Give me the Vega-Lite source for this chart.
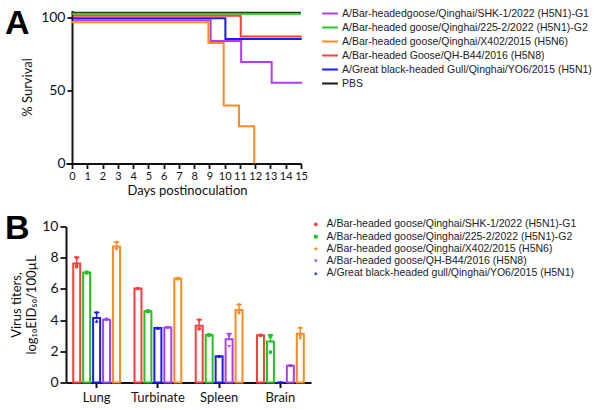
{
  "$schema": "https://vega.github.io/schema/vega-lite/v6.json",
  "background": "white",
  "padding": {"left": 5, "top": 6.5, "right": 0, "bottom": 0},
  "spacing": 14,
  "config": {
    "font": "Lato",
    "view": {"stroke": null},
    "axis": {
      "domainColor": "#111111", "domainWidth": 2, "tickColor": "#111111", "tickWidth": 1.8, "tickSize": 5,
      "labelColor": "#111111", "titleColor": "#111111", "labelFont": "Lato", "titleFont": "Lato",
      "grid": false, "titleFontWeight": "normal"
    },
    "legend": {"labelFont": "Liberation Sans", "labelColor": "#222222"}
  },
  "resolve": {"scale": {"color": "independent", "shape": "independent"}, "legend": {"color": "independent", "shape": "independent"}},
  "vconcat": [
    {
      "width": 235,
      "height": 153,
      "title": {"text": "A", "font": "Liberation Sans", "fontSize": 34, "fontWeight": "bold", "color": "#000000", "anchor": "start", "frame": "group", "orient": "top", "offset": 0, "dx": -61, "dy": 33},
      "data": {"values": [
        {"strain": "A/Bar-headedgoose/Qinghai/SHK-1/2022 (H5N1)-G1", "day": 0, "survival": 100},
        {"strain": "A/Bar-headedgoose/Qinghai/SHK-1/2022 (H5N1)-G1", "day": 9, "survival": 85.7},
        {"strain": "A/Bar-headedgoose/Qinghai/SHK-1/2022 (H5N1)-G1", "day": 11, "survival": 71.4},
        {"strain": "A/Bar-headedgoose/Qinghai/SHK-1/2022 (H5N1)-G1", "day": 13, "survival": 57.1},
        {"strain": "A/Bar-headedgoose/Qinghai/SHK-1/2022 (H5N1)-G1", "day": 15, "survival": 57.1},
        {"strain": "A/Bar-headed goose/Qinghai/225-2/2022 (H5N1)-G2", "day": 0, "survival": 100},
        {"strain": "A/Bar-headed goose/Qinghai/225-2/2022 (H5N1)-G2", "day": 15, "survival": 100},
        {"strain": "A/Bar-headed goose/Qinghai/X402/2015 (H5N6)", "day": 0, "survival": 100},
        {"strain": "A/Bar-headed goose/Qinghai/X402/2015 (H5N6)", "day": 9, "survival": 85.7},
        {"strain": "A/Bar-headed goose/Qinghai/X402/2015 (H5N6)", "day": 10, "survival": 42.9},
        {"strain": "A/Bar-headed goose/Qinghai/X402/2015 (H5N6)", "day": 11, "survival": 28.6},
        {"strain": "A/Bar-headed goose/Qinghai/X402/2015 (H5N6)", "day": 12, "survival": 0},
        {"strain": "A/Bar-headed Goose/QH-B44/2016 (H5N8)", "day": 0, "survival": 100},
        {"strain": "A/Bar-headed Goose/QH-B44/2016 (H5N8)", "day": 11, "survival": 85.7},
        {"strain": "A/Bar-headed Goose/QH-B44/2016 (H5N8)", "day": 15, "survival": 85.7},
        {"strain": "A/Great black-headed Gull/Qinghai/YO6/2015 (H5N1)", "day": 0, "survival": 100},
        {"strain": "A/Great black-headed Gull/Qinghai/YO6/2015 (H5N1)", "day": 10, "survival": 85.7},
        {"strain": "A/Great black-headed Gull/Qinghai/YO6/2015 (H5N1)", "day": 15, "survival": 85.7},
        {"strain": "PBS", "day": 0, "survival": 100},
        {"strain": "PBS", "day": 15, "survival": 100}
      ]},
      "encoding": {
        "x": {"field": "day", "type": "quantitative", "scale": {"domain": [-0.395, 15], "nice": false, "zero": false},
          "axis": {"values": [0,1,2,3,4,5,6,7,8,9,10,11,12,13,14,15], "title": "Days postinoculation", "labelFontSize": 11, "titleFontSize": 13, "labelPadding": 2, "titlePadding": 3, "labelFlush": false, "labelOverlap": false, "titleX": 121}},
        "y": {"field": "survival", "type": "quantitative", "scale": {"domain": [0, 105], "nice": false},
          "axis": {"values": [0, 50, 100], "title": "% Survival", "labelFontSize": 14, "titleFontSize": 13, "labelPadding": 2, "titlePadding": 6, "offset": -6}},
        "color": {"field": "strain", "type": "nominal",
          "scale": {
            "domain": ["A/Bar-headedgoose/Qinghai/SHK-1/2022 (H5N1)-G1", "A/Bar-headed goose/Qinghai/225-2/2022 (H5N1)-G2", "A/Bar-headed goose/Qinghai/X402/2015 (H5N6)", "A/Bar-headed Goose/QH-B44/2016 (H5N8)", "A/Great black-headed Gull/Qinghai/YO6/2015 (H5N1)", "PBS"],
            "range": ["#b13cf3", "#22c922", "#ff8a1e", "#ff3d3d", "#1b1bff", "#1a1a1a"]
          },
          "legend": {"orient": "none", "legendX": 255, "legendY": -3, "title": null, "symbolType": "stroke", "symbolStrokeWidth": 2, "symbolSize": 250, "clipHeight": 12, "labelFontSize": 10.5, "labelLimit": 0, "rowPadding": 2, "labelOffset": 3}}
      },
      "layer": [
        {"transform": [{"filter": {"field": "strain", "equal": "PBS"}}], "mark": {"type": "line", "interpolate": "step-after", "strokeWidth": 2, "yOffset": -5}},
        {"transform": [{"filter": {"field": "strain", "equal": "A/Bar-headed goose/Qinghai/225-2/2022 (H5N1)-G2"}}], "mark": {"type": "line", "interpolate": "step-after", "strokeWidth": 2, "yOffset": -4}},
        {"transform": [{"filter": {"field": "strain", "equal": "A/Bar-headed Goose/QH-B44/2016 (H5N8)"}}], "mark": {"type": "line", "interpolate": "step-after", "strokeWidth": 2, "yOffset": -2, "xOffset": 0.8}},
        {"transform": [{"filter": {"field": "strain", "equal": "A/Great black-headed Gull/Qinghai/YO6/2015 (H5N1)"}}], "mark": {"type": "line", "interpolate": "step-after", "strokeWidth": 2, "yOffset": 0.5, "xOffset": 0.7}},
        {"transform": [{"filter": {"field": "strain", "equal": "A/Bar-headedgoose/Qinghai/SHK-1/2022 (H5N1)-G1"}}], "mark": {"type": "line", "interpolate": "step-after", "strokeWidth": 2, "yOffset": 2.5, "xOffset": 1.2}},
        {"transform": [{"filter": {"field": "strain", "equal": "A/Bar-headed goose/Qinghai/X402/2015 (H5N6)"}}], "mark": {"type": "line", "interpolate": "step-after", "strokeWidth": 2, "yOffset": 4.5, "xOffset": -1, "clip": true}}
      ]
    },
    {
      "width": 245,
      "height": 156,
      "title": {"text": "B", "font": "Liberation Sans", "fontSize": 34, "fontWeight": "bold", "color": "#000000", "anchor": "start", "frame": "group", "orient": "top", "offset": 0, "dx": -61, "dy": 27},
      "data": {"values": [
        {"tissue": "Lung", "strain": "A/Bar-headed goose/Qinghai/SHK-1/2022 (H5N1)-G1", "titer": 7.63, "upper": 8.03, "reps": [8.0, 7.5, 7.4]},
        {"tissue": "Lung", "strain": "A/Bar-headed goose/Qinghai/225-2/2022 (H5N1)-G2", "titer": 7.05, "upper": 7.05, "reps": [7.05, 7.05, 7.05]},
        {"tissue": "Lung", "strain": "A/Great black-headed gull/Qinghai/YO6/2015 (H5N1)", "titer": 4.13, "upper": 4.5, "reps": [4.5, 3.95, 3.95]},
        {"tissue": "Lung", "strain": "A/Bar-headed goose/QH-B44/2016 (H5N8)", "titer": 4.03, "upper": 4.05, "reps": [4.05, 4.0, 4.05]},
        {"tissue": "Lung", "strain": "A/Bar-headed goose/Qinghai/X402/2015 (H5N6)", "titer": 8.72, "upper": 9.0, "reps": [9.0, 8.6, 8.55]},
        {"tissue": "Turbinate", "strain": "A/Bar-headed goose/Qinghai/SHK-1/2022 (H5N1)-G1", "titer": 6.03, "upper": 6.03, "reps": [6.03, 6.03, 6.03]},
        {"tissue": "Turbinate", "strain": "A/Bar-headed goose/Qinghai/225-2/2022 (H5N1)-G2", "titer": 4.57, "upper": 4.57, "reps": [4.57, 4.57, 4.57]},
        {"tissue": "Turbinate", "strain": "A/Great black-headed gull/Qinghai/YO6/2015 (H5N1)", "titer": 3.5, "upper": 3.5, "reps": [3.5, 3.5, 3.5]},
        {"tissue": "Turbinate", "strain": "A/Bar-headed goose/QH-B44/2016 (H5N8)", "titer": 3.52, "upper": 3.52, "reps": [3.52, 3.52, 3.52]},
        {"tissue": "Turbinate", "strain": "A/Bar-headed goose/Qinghai/X402/2015 (H5N6)", "titer": 6.65, "upper": 6.7, "reps": [6.7, 6.65, 6.6]},
        {"tissue": "Spleen", "strain": "A/Bar-headed goose/Qinghai/SHK-1/2022 (H5N1)-G1", "titer": 3.63, "upper": 4.03, "reps": [4.0, 3.45, 3.45]},
        {"tissue": "Spleen", "strain": "A/Bar-headed goose/Qinghai/225-2/2022 (H5N1)-G2", "titer": 3.05, "upper": 3.05, "reps": [3.05, 3.05, 3.05]},
        {"tissue": "Spleen", "strain": "A/Great black-headed gull/Qinghai/YO6/2015 (H5N1)", "titer": 1.68, "upper": 1.68, "reps": [1.68, 1.68, 1.68]},
        {"tissue": "Spleen", "strain": "A/Bar-headed goose/QH-B44/2016 (H5N8)", "titer": 2.78, "upper": 3.12, "reps": [3.1, 2.95, 2.3]},
        {"tissue": "Spleen", "strain": "A/Bar-headed goose/Qinghai/X402/2015 (H5N6)", "titer": 4.65, "upper": 5.0, "reps": [5.0, 4.5, 4.45]},
        {"tissue": "Brain", "strain": "A/Bar-headed goose/Qinghai/SHK-1/2022 (H5N1)-G1", "titer": 3.03, "upper": 3.03, "reps": [3.03, 3.03, 3.03]},
        {"tissue": "Brain", "strain": "A/Bar-headed goose/Qinghai/225-2/2022 (H5N1)-G2", "titer": 2.63, "upper": 3.05, "reps": [3.0, 2.95, 1.95]},
        {"tissue": "Brain", "strain": "A/Great black-headed gull/Qinghai/YO6/2015 (H5N1)", "titer": 0, "upper": 0, "reps": [0, 0, 0]},
        {"tissue": "Brain", "strain": "A/Bar-headed goose/QH-B44/2016 (H5N8)", "titer": 1.07, "upper": 1.07, "reps": [1.07, 1.07, 1.07]},
        {"tissue": "Brain", "strain": "A/Bar-headed goose/Qinghai/X402/2015 (H5N6)", "titer": 3.12, "upper": 3.5, "reps": [3.5, 3.0, 2.85]}
      ]},
      "encoding": {
        "x": {"field": "tissue", "type": "nominal", "sort": ["Lung", "Turbinate", "Spleen", "Brain"],
          "scale": {"paddingInner": 0, "paddingOuter": 0},
          "axis": {"title": null, "labelAngle": 0, "labelFontSize": 13, "labelPadding": 4, "tickSize": 5, "tickWidth": 2}},
        "xOffset": {"field": "strain", "type": "nominal",
          "scale": {"domain": ["A/Bar-headed goose/Qinghai/SHK-1/2022 (H5N1)-G1", "A/Bar-headed goose/Qinghai/225-2/2022 (H5N1)-G2", "A/Great black-headed gull/Qinghai/YO6/2015 (H5N1)", "A/Bar-headed goose/QH-B44/2016 (H5N8)", "A/Bar-headed goose/Qinghai/X402/2015 (H5N6)"], "paddingInner": 0.3, "paddingOuter": 0.725}},
        "y": {"type": "quantitative", "scale": {"domain": [0, 10], "nice": false},
          "axis": {"values": [0, 2, 4, 6, 8, 10], "title": ["Virus titers,", "log₁₀EID₅₀/100µL"], "labelFontSize": 14, "titleFontSize": 13, "titleLineHeight": 15, "labelPadding": 2, "titlePadding": 3, "tickSize": 6}},
        "stroke": {"field": "strain", "type": "nominal", "legend": null,
          "scale": {"domain": ["A/Bar-headed goose/Qinghai/SHK-1/2022 (H5N1)-G1", "A/Bar-headed goose/Qinghai/225-2/2022 (H5N1)-G2", "A/Bar-headed goose/Qinghai/X402/2015 (H5N6)", "A/Bar-headed goose/QH-B44/2016 (H5N8)", "A/Great black-headed gull/Qinghai/YO6/2015 (H5N1)"],
            "range": ["#ff3d3d", "#1fc41f", "#ff8a1e", "#a83ff2", "#1b1bff"]}}
      },
      "layer": [
        {
          "mark": {"type": "bar", "fill": "white", "strokeWidth": 2},
          "encoding": {"y": {"field": "titer", "type": "quantitative"}}
        },
        {
          "mark": {"type": "rule", "strokeWidth": 1.5},
          "encoding": {"y": {"field": "titer", "type": "quantitative"}, "y2": {"field": "upper"}}
        },
        {
          "mark": {"type": "point", "shape": "stroke", "size": 30, "strokeWidth": 1.5, "opacity": 1},
          "encoding": {"y": {"field": "upper", "type": "quantitative"}}
        },
        {
          "transform": [{"flatten": ["reps"], "as": ["rep"]}],
          "mark": {"type": "point", "filled": true, "size": 12, "opacity": 1, "strokeWidth": 0},
          "encoding": {
            "y": {"field": "rep", "type": "quantitative"},
            "stroke": {"value": null},
            "color": {"field": "strain", "type": "nominal",
              "scale": {"domain": ["A/Bar-headed goose/Qinghai/SHK-1/2022 (H5N1)-G1", "A/Bar-headed goose/Qinghai/225-2/2022 (H5N1)-G2", "A/Bar-headed goose/Qinghai/X402/2015 (H5N6)", "A/Bar-headed goose/QH-B44/2016 (H5N8)", "A/Great black-headed gull/Qinghai/YO6/2015 (H5N1)"],
                "range": ["#ff3d3d", "#1fc41f", "#ff8a1e", "#a83ff2", "#1b1bff"]},
              "legend": {"orient": "none", "legendX": 244.5, "legendY": -7.3, "title": null, "symbolSize": 14, "labelFontSize": 10.5, "labelLimit": 0, "rowPadding": 1.2, "labelOffset": 5.5}},
            "shape": {"field": "strain", "type": "nominal",
              "scale": {"domain": ["A/Bar-headed goose/Qinghai/SHK-1/2022 (H5N1)-G1", "A/Bar-headed goose/Qinghai/225-2/2022 (H5N1)-G2", "A/Bar-headed goose/Qinghai/X402/2015 (H5N6)", "A/Bar-headed goose/QH-B44/2016 (H5N8)", "A/Great black-headed gull/Qinghai/YO6/2015 (H5N1)"],
                "range": ["circle", "square", "diamond", "triangle-down", "triangle-up"]},
              "legend": {"orient": "none", "legendX": 244.5, "legendY": -7.3, "title": null, "symbolSize": 14, "labelFontSize": 10.5, "labelLimit": 0, "rowPadding": 1.2, "labelOffset": 5.5}}
          }
        }
      ]
    }
  ]
}
